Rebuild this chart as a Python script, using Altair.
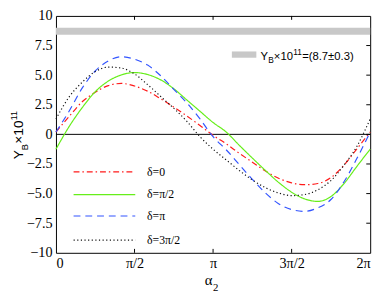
import altair as alt
import pandas as pd

# ---------------- data ----------------
alpha_over_pi = [k / 12 for k in range(25)]  # alpha_2 in units of pi

series_names = ["δ=0", "δ=π/2", "δ=π", "δ=3π/2"]

y_delta_0 = [0.2, 1.5, 2.75, 3.55, 4.12, 4.3, 4.08, 3.65, 3.0, 2.3, 1.55, 0.75, -0.08,
             -0.8, -1.6, -2.35, -3.1, -3.7, -4.1, -4.25, -4.15, -3.65, -2.6, -1.2, 0.2]
y_delta_half_pi = [-1.25, 0.65, 2.25, 3.6, 4.5, 5.02, 5.22, 5.05, 4.6, 3.85, 2.9, 1.95, 1.0,
                   0.2, -0.92, -2.0, -3.05, -4.05, -4.88, -5.45, -5.66, -5.25, -4.15, -2.68, -1.25]
y_delta_pi = [0.2, 1.95, 3.9, 5.35, 6.2, 6.55, 6.35, 5.85, 4.95, 3.8, 2.65, 1.3, -0.2,
              -1.3, -2.55, -3.8, -4.95, -5.85, -6.35, -6.5, -6.2, -5.5, -4.0, -2.0, 0.2]
y_delta_3half_pi = [1.3, 3.15, 4.4, 5.3, 5.68, 5.6, 5.1, 4.2, 3.2, 2.2, 1.1, -0.2, -1.25,
                    -2.15, -3.05, -3.85, -4.5, -4.95, -5.17, -5.08, -4.68, -3.9, -2.6, -0.98, 1.3]

band_low = 8.4
band_high = 9.0

x_tick_values = [0, 0.5, 1, 1.5, 2]
x_tick_labels = ["0", "π/2", "π", "3π/2", "2π"]
y_tick_values = [-10, -7.5, -5, -2.5, 0, 2.5, 5, 7.5, 10]

colors = ["#ff1a1a", "#66ee1a", "#3355ff", "#111111"]
dashes = [[6, 3, 1.5, 3], [1, 0], [7, 5], [1.2, 2.5]]

# ---------------- layout ----------------
W, H = 321, 242
SERIF = "Liberation Serif"
SANS = "Liberation Sans"

rows = []
for name, vals in zip(series_names, [y_delta_0, y_delta_half_pi, y_delta_pi, y_delta_3half_pi]):
    for a, v in zip(alpha_over_pi, vals):
        rows.append({"series": name, "alpha": a, "value": v})
df = pd.DataFrame(rows)

x_label_expr = " : ".join(
    f"datum.value == {v} ? '{l}'" for v, l in zip(x_tick_values[:-1], x_tick_labels[:-1])
) + f" : '{x_tick_labels[-1]}'"
y_label_expr = ("datum.value == 0 ? '0' : (abs(datum.value) == 10 ? format(datum.value, 'd') "
                ": format(datum.value, '.1f'))")

x_scale = alt.Scale(domain=[0, 2], nice=False, zero=False)
y_scale = alt.Scale(domain=[-10, 10], nice=False, zero=False)

x_axis = alt.Axis(values=x_tick_values, labelExpr=x_label_expr, title=None, ticks=False,
                  domain=False, grid=False, labelFont=SERIF, labelFontSize=14.5,
                  labelColor="black", labelPadding=4)
y_axis = alt.Axis(values=y_tick_values, labelExpr=y_label_expr, title=None, ticks=False,
                  domain=False, grid=False, labelFont=SERIF, labelFontSize=14.5,
                  labelColor="black", labelPadding=4)

band_df = pd.DataFrame({"x0": [0], "x1": [2], "lo": [band_low], "hi": [band_high]})
band = alt.Chart(band_df).mark_rect(color="#c8c8c8").encode(
    x=alt.X("x0:Q", scale=x_scale, axis=x_axis),
    x2="x1:Q",
    y=alt.Y("lo:Q", scale=y_scale, axis=y_axis),
    y2="hi:Q",
)

zero_line = alt.Chart(pd.DataFrame({"z": [0]})).mark_rule(color="black", strokeWidth=1).encode(
    y=alt.Y("z:Q", scale=y_scale, axis=y_axis)
)

curves = alt.Chart(df).mark_line(strokeWidth=1.2, interpolate="monotone").encode(
    x=alt.X("alpha:Q", scale=x_scale, axis=x_axis),
    y=alt.Y("value:Q", scale=y_scale, axis=y_axis),
    color=alt.Color("series:N", scale=alt.Scale(domain=series_names, range=colors), legend=None),
    strokeDash=alt.StrokeDash("series:N", scale=alt.Scale(domain=series_names, range=dashes),
                              legend=None),
)

# inward ticks: top, bottom (x) and right (y)
xt_df = pd.DataFrame({"t": x_tick_values[1:-1]})
yt_df = pd.DataFrame({"t": y_tick_values[1:-1]})
top_ticks = alt.Chart(xt_df).mark_rule(color="black").encode(
    x=alt.X("t:Q", scale=x_scale, axis=x_axis), y=alt.value(0), y2=alt.value(4))
bottom_ticks = alt.Chart(xt_df).mark_rule(color="black").encode(
    x=alt.X("t:Q", scale=x_scale, axis=x_axis), y=alt.value(H), y2=alt.value(H - 4))
right_ticks = alt.Chart(yt_df).mark_rule(color="black").encode(
    y=alt.Y("t:Q", scale=y_scale, axis=y_axis), x=alt.value(W), x2=alt.value(W - 4))

layers = [band, zero_line, curves, top_ticks, bottom_ticks, right_ticks]

# legend for the curves
leg_rows_y = [159.4, 182.5, 204.4, 229.1]
for name, c, d, ry in zip(series_names, colors, dashes, leg_rows_y):
    layers.append(alt.Chart(pd.DataFrame({"s": [name]})).mark_rule(
        color=c, strokeDash=d, strokeWidth=1.2).encode(
        x=alt.value(18), x2=alt.value(81), y=alt.value(ry)))
    layers.append(alt.Chart(pd.DataFrame({"s": [name]})).mark_text(
        font=SERIF, fontSize=12, align="left", baseline="middle", color="black").encode(
        x=alt.value(93), y=alt.value(ry), text="s:N"))

def txt(s, x, y, size, font=SANS, angle=0):
    return alt.Chart(pd.DataFrame({"s": [s]})).mark_text(
        font=font, fontSize=size, align="left", baseline="alphabetic", angle=angle,
        color="black").encode(x=alt.value(x), y=alt.value(y), text="s:N")

# gray band legend
layers.append(alt.Chart(pd.DataFrame({"s": ["band"]})).mark_rect(color="#c8c8c8").encode(
    x=alt.value(179.7), x2=alt.value(204.7), y=alt.value(36.3), y2=alt.value(42.7)))
layers += [
    txt("Y", 209, 44.8, 11.5),
    txt("B", 216.8, 47.7, 8.5),
    txt("×10", 222.6, 44.8, 11.5),
    txt("11", 242.3, 40.3, 8.5),
    txt("=(8.7±0.3)", 251.5, 44.8, 11.5),
]

# y-axis title (rotated)
layers += [
    txt("Y", -34, 146.5, 14, angle=270),
    txt("B", -29, 137.2, 9.5, angle=270),
    txt("×10", -34, 130.5, 14, angle=270),
    txt("11", -40, 106.5, 9, angle=270),
]

# x-axis title
layers += [
    txt("α", 152, 275, 15, font=SERIF),
    txt("2", 160.5, 281, 11, font=SERIF),
]

chart = alt.layer(*layers).properties(
    width=W, height=H,
    autosize=alt.AutoSizeParams(type="none"),
    padding={"left": 49, "top": 5, "right": 9, "bottom": 40},
).configure_view(stroke="black", strokeWidth=1)

chart.save("out.html", embed_options={"renderer": "svg", "actions": False})
